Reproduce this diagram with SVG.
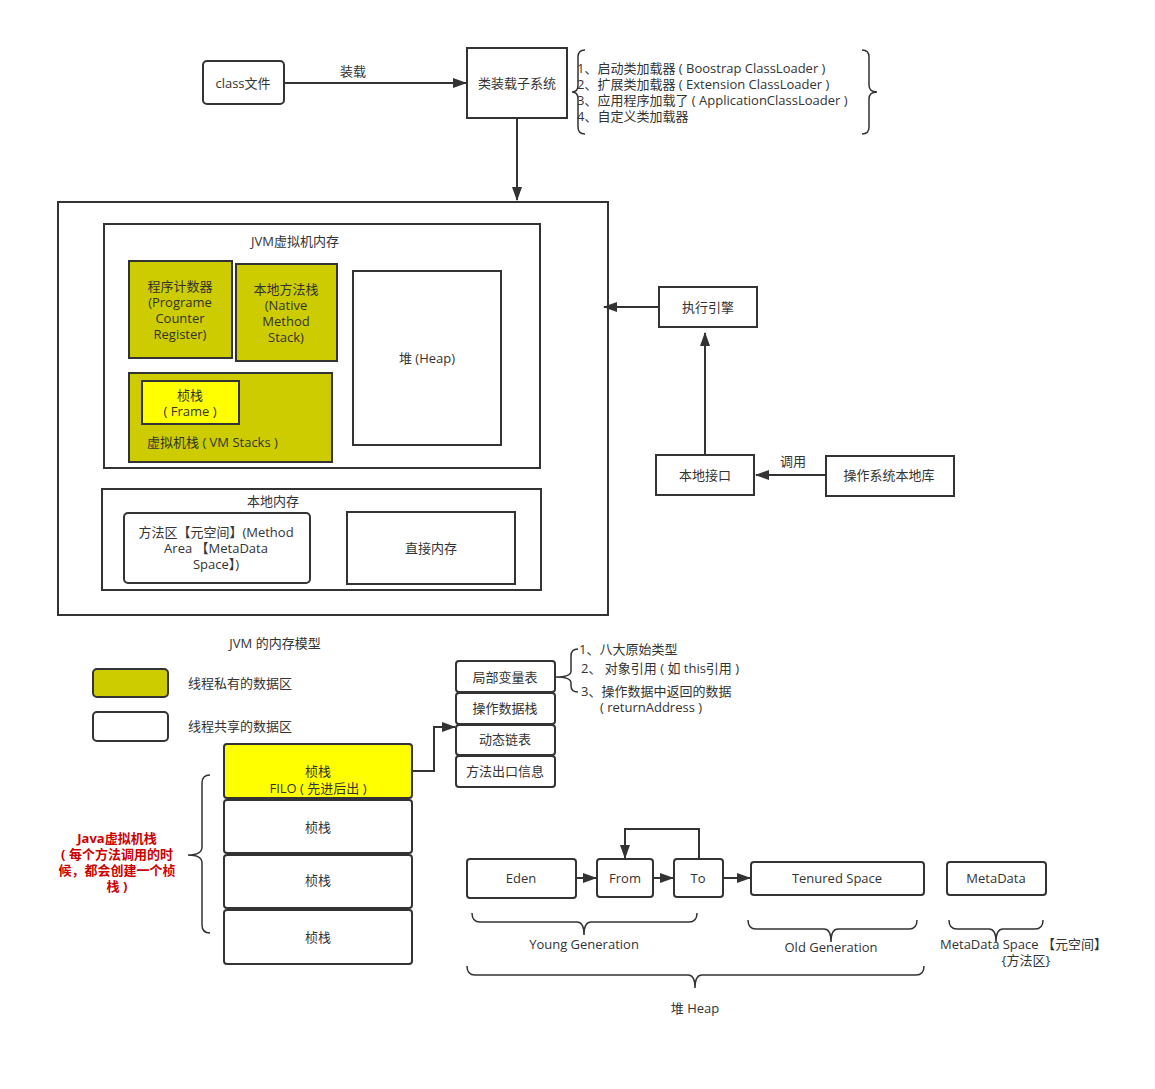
<svg xmlns="http://www.w3.org/2000/svg" width="1155" height="1089" viewBox="0 0 1155 1089">
<defs>
<marker id="arrL" viewBox="0 0 14 10" refX="13" refY="5" markerWidth="14" markerHeight="10" markerUnits="userSpaceOnUse" orient="auto">
<path d="M0,0 L14,5 L0,10 z" fill="#333"/>
</marker>
</defs>
<style>
text{font-family:"Open Sans","Noto Sans CJK SC",sans-serif;font-size:13px;fill:#333;}
.c{text-anchor:middle;}
.box{fill:#fff;stroke:#333;stroke-width:2;}
.olive{fill:#CCCC00;stroke:#333;stroke-width:2;}
.yel{fill:#FFFF00;stroke:#333;stroke-width:2;}
.ln{fill:none;stroke:#333;stroke-width:2;}
.br{fill:none;stroke:#333;stroke-width:1.5;}
.red{fill:#CC0000;font-weight:bold;font-size:13px;}
</style>
<rect width="1155" height="1089" fill="#fff"/>

<!-- class loading -->
<g id="class-file"><rect class="box" x="203" y="61" width="81" height="43" rx="4"/><text class="c" x="243" y="88">class文件</text></g>
<g id="class-loader"><rect class="box" x="467" y="48" width="100" height="70"/><text class="c" x="517" y="88">类装载子系统</text></g>
<g id="loader-list">
<path class="br" d="M585,50 Q578,50 578,57 L578,85 Q578,92 572,92 Q578,92 578,99 L578,127 Q578,134 585,134"/>
<path class="br" d="M862,50 Q869,50 869,57 L869,85 Q869,92 877,92 Q869,92 869,99 L869,127 Q869,134 862,134"/>
<text x="577" y="73">1、启动类加载器 ( Boostrap ClassLoader )</text>
<text x="577" y="89">2、扩展类加载器 ( Extension ClassLoader )</text>
<text x="577" y="105">3、应用程序加载了 ( ApplicationClassLoader )</text>
<text x="577" y="121">4、自定义类加载器</text>
</g>

<!-- runtime memory -->
<g id="runtime"><rect class="box" x="58" y="202" width="550" height="413"/></g>
<g id="jvm-memory"><rect class="box" x="104" y="224" width="436" height="244"/><text class="c" x="295" y="246">JVM虚拟机内存</text></g>
<g id="pc-register"><rect class="olive" x="129" y="261" width="103" height="97"/>
<text class="c" x="180" y="291">程序计数器</text><text class="c" x="180" y="307">(Programe</text><text class="c" x="180" y="323">Counter</text><text class="c" x="180" y="339">Register)</text></g>
<g id="native-stack"><rect class="olive" x="236" y="264" width="101" height="97"/>
<text class="c" x="286" y="294">本地方法栈</text><text class="c" x="286" y="310">(Native</text><text class="c" x="286" y="326">Method</text><text class="c" x="286" y="342">Stack)</text></g>
<g id="heap"><rect class="box" x="353" y="271" width="148" height="174"/><text class="c" x="427" y="363">堆 (Heap)</text></g>
<g id="vm-stacks"><rect class="olive" x="129" y="373" width="203" height="89"/><text x="147" y="447">虚拟机栈 ( VM Stacks )</text></g>
<g id="frame"><rect class="yel" x="142" y="381" width="97" height="43"/><text class="c" x="190" y="400">桢栈</text><text class="c" x="190" y="416">( Frame )</text></g>
<g id="native-memory"><rect class="box" x="102" y="489" width="439" height="101"/><text class="c" x="273" y="506">本地内存</text></g>
<g id="method-area"><rect class="box" x="124" y="513" width="186" height="70" rx="4"/>
<text class="c" x="216" y="537">方法区【元空间】(Method</text><text class="c" x="216" y="553">Area 【MetaData</text><text class="c" x="216" y="569">Space】)</text></g>
<g id="direct-memory"><rect class="box" x="347" y="512" width="168" height="72"/><text class="c" x="431" y="553">直接内存</text></g>

<g id="exec-engine"><rect class="box" x="659" y="287" width="98" height="40"/><text class="c" x="708" y="312">执行引擎</text></g>
<g id="native-interface"><rect class="box" x="656" y="455" width="98" height="40"/><text class="c" x="705" y="480">本地接口</text></g>
<g id="os-lib"><rect class="box" x="826" y="456" width="128" height="40"/><text class="c" x="889" y="480">操作系统本地库</text></g>

<!-- legend -->
<g id="legend">
<text class="c" x="275" y="648">JVM 的内存模型</text>
<rect class="olive" x="93" y="669" width="75" height="28" rx="4"/><text x="188" y="688">线程私有的数据区</text>
<rect class="box" x="93" y="712" width="75" height="29" rx="4"/><text x="188" y="731">线程共享的数据区</text>
</g>

<!-- frame stack -->
<g id="frame-top"><rect class="yel" x="224" y="744" width="188" height="54" rx="3"/><text class="c" x="318" y="776">桢栈</text><text class="c" x="318" y="793">FILO ( 先进后出 )</text></g>
<g id="frame-2"><rect class="box" x="224" y="800" width="188" height="53" rx="3"/><text class="c" x="318" y="832">桢栈</text></g>
<g id="frame-3"><rect class="box" x="224" y="855" width="188" height="53" rx="3"/><text class="c" x="318" y="885">桢栈</text></g>
<g id="frame-4"><rect class="box" x="224" y="910" width="188" height="54" rx="3"/><text class="c" x="318" y="942">桢栈</text></g>
<g id="java-stack-note">
<path class="br" d="M210,775 Q202,775 202,783 L202,847 Q202,855 188,855 Q202,855 202,863 L202,925 Q202,933 210,933"/>
<text class="c red" x="117" y="843">Java虚拟机栈</text>
<text class="c red" x="117" y="859">( 每个方法调用的时</text>
<text class="c red" x="117" y="875">候，都会创建一个桢</text>
<text class="c red" x="117" y="891">栈 )</text>
</g>

<!-- frame contents -->
<g id="local-vars"><rect class="box" x="456" y="661" width="99" height="31" rx="3"/><text class="c" x="505" y="682">局部变量表</text></g>
<g id="operand-stack"><rect class="box" x="456" y="693" width="99" height="31" rx="3"/><text class="c" x="505" y="713">操作数据栈</text></g>
<g id="dynamic-link"><rect class="box" x="456" y="725" width="99" height="30" rx="3"/><text class="c" x="505" y="744">动态链表</text></g>
<g id="return-info"><rect class="box" x="456" y="756" width="99" height="31" rx="3"/><text class="c" x="505" y="776">方法出口信息</text></g>
<g id="local-vars-note">
<path class="br" d="M578,649 Q571,649 571,656 L571,671 Q571,677 556,677 Q571,677 571,683 L571,686 Q571,692 578,692"/>
<text x="579" y="654">1、八大原始类型</text>
<text x="581" y="673">2、 对象引用 ( 如 this引用 )</text>
<text x="581" y="696">3、操作数据中返回的数据</text>
<text x="600" y="712">( returnAddress )</text>
</g>

<!-- heap generations -->
<g id="eden"><rect class="box" x="467" y="859" width="109" height="39" rx="3"/><text class="c" x="521" y="883">Eden</text></g>
<g id="from"><rect class="box" x="597" y="859" width="56" height="38" rx="3"/><text class="c" x="625" y="883">From</text></g>
<g id="to"><rect class="box" x="674" y="859" width="49" height="38" rx="3"/><text class="c" x="698" y="883">To</text></g>
<g id="tenured"><rect class="box" x="751" y="862" width="173" height="33" rx="3"/><text class="c" x="837" y="883">Tenured Space</text></g>
<g id="metadata"><rect class="box" x="947" y="862" width="99" height="33" rx="3"/><text class="c" x="996" y="883">MetaData</text></g>
<g id="heap-braces">
<path class="br" d="M472,913 Q472,922 480,922 L577,922 Q584,922 584,935 Q584,922 591,922 L689,922 Q697,922 697,913"/>
<text class="c" x="584" y="949">Young Generation</text>
<path class="br" d="M748,920 Q748,929 756,929 L824,929 Q831,929 831,942 Q831,929 838,929 L909,929 Q917,929 917,920"/>
<text class="c" x="831" y="952">Old Generation</text>
<path class="br" d="M949,920 Q949,929 957,929 L989,929 Q996,929 996,942 Q996,929 1003,929 L1035,929 Q1043,929 1043,920"/>
<text x="940" y="949">MetaData Space 【元空间】</text>
<text class="c" x="1026" y="965">{方法区}</text>
<path class="br" d="M467,966 Q467,975 475,975 L688,975 Q695,975 695,988 Q695,975 702,975 L916,975 Q924,975 924,966"/>
<text class="c" x="695" y="1013">堆 Heap</text>
</g>

<!-- connectors -->
<g id="connectors">
<line class="ln" x1="284" y1="83" x2="466" y2="83" marker-end="url(#arrL)"/>
<text class="c" x="353" y="76">装载</text>
<line class="ln" x1="517" y1="118" x2="517" y2="200" marker-end="url(#arrL)"/>
<line class="ln" x1="659" y1="307" x2="604" y2="307" marker-end="url(#arrL)"/>
<line class="ln" x1="705" y1="455" x2="705" y2="333" marker-end="url(#arrL)"/>
<line class="ln" x1="826" y1="475" x2="756" y2="475" marker-end="url(#arrL)"/>
<text class="c" x="793" y="466">调用</text>
<polyline class="ln" points="412,771 434,771 434,727 455,727" marker-end="url(#arrL)"/>
<line class="ln" x1="576" y1="878" x2="596" y2="878" marker-end="url(#arrL)"/>
<line class="ln" x1="653" y1="878" x2="673" y2="878" marker-end="url(#arrL)"/>
<line class="ln" x1="723" y1="878" x2="750" y2="878" marker-end="url(#arrL)"/>
<polyline class="ln" points="699,859 699,829 625,829 625,858" marker-end="url(#arrL)"/>
</g>
</svg>
